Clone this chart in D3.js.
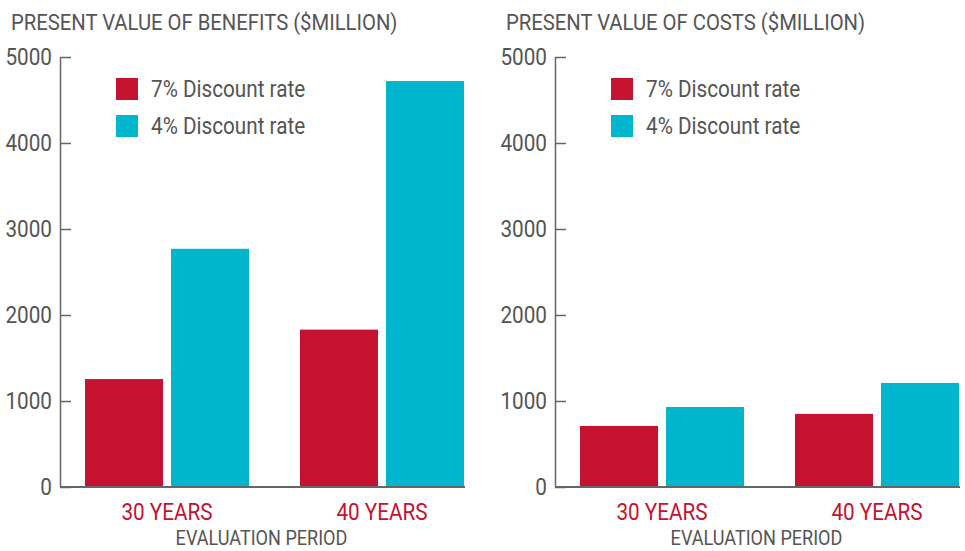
<html>
<head>
  <script src="https://d3js.org/d3.v7.min.js"></script>
  <style>
    body { margin: 0; background: #fff; }
    text { font-family: Roboto, "Liberation Sans", sans-serif; fill: #555; }
    .axis .domain, .axis line { stroke: #666; stroke-width: 1.5; }
  </style>
</head>
<body>
  <svg id="chart" width="965" height="551"></svg>
  <script>
    // values ($ million)
    const periods = ["30 YEARS", "40 YEARS"];
    const rates = ["7% Discount rate", "4% Discount rate"];
    const benefits7 = [1255, 1830];
    const benefits4 = [2770, 4720];
    const costs7 = [710, 850];
    const costs4 = [930, 1210];
    const yTicks = [0, 1000, 2000, 3000, 4000, 5000];
    const colors = ["#C41230", "#00B5CC"];

    const svg = d3.select("#chart");
    const condense = 0.9;   // the original face is a narrow sans

    const panels = [
      { title: "PRESENT VALUE OF BENEFITS ($MILLION)", s7: benefits7, s4: benefits4, left: 0 },
      { title: "PRESENT VALUE OF COSTS ($MILLION)", s7: costs7, s4: costs4, left: 495 }
    ];

    const margin = { top: 57, left: 60, bottom: 64 };
    const plotW = 405;
    const plotH = 551 - margin.top - margin.bottom;

    const yScale = d3.scaleLinear().domain([0, 5000]).range([plotH, 0]);
    const xScale = d3.scaleBand().domain(periods).range([25, 404]).paddingInner(0.237);
    const xSub = d3.scaleBand().domain(rates).range([0, xScale.bandwidth()]).paddingInner(0.093);

    panels.forEach(p => {
      const g = svg.append("g").attr("transform", "translate(" + p.left + ",0)");

      g.append("text").attr("x", 11).attr("y", 30)
       .style("font-size", "22.5px").text(p.title);

      const chart = g.append("g").attr("transform", "translate(" + margin.left + "," + margin.top + ")");

      const yAxis = d3.axisLeft(yScale).tickValues(yTicks).tickSizeInner(-11).tickSizeOuter(0)
                      .tickPadding(8).tickFormat(d3.format("d"));
      chart.append("g").attr("class", "axis").call(yAxis)
           .selectAll("text").style("font-size", "23px").style("font-family", null).attr("fill", null);

      const rows = periods.map((per, i) => ({ period: per, vals: [p.s7[i], p.s4[i]] }));
      chart.selectAll("g.grp").data(rows).join("g").attr("class", "grp")
           .attr("transform", d => "translate(" + xScale(d.period) + ",0)")
           .selectAll("rect").data(d => d.vals.map((v, j) => ({ rate: rates[j], v: v, c: colors[j] })))
           .join("rect")
           .attr("x", d => xSub(d.rate))
           .attr("width", xSub.bandwidth())
           .attr("y", d => yScale(d.v))
           .attr("height", d => yScale(0) - yScale(d.v))
           .attr("fill", d => d.c);

      // baseline
      chart.append("line").attr("x1", 0).attr("x2", plotW)
           .attr("y1", yScale(0)).attr("y2", yScale(0))
           .attr("stroke", "#666").attr("stroke-width", 2);

      // category labels
      chart.selectAll("text.cat").data(periods).join("text").attr("class", "cat")
           .attr("x", d => xScale(d) + xScale.bandwidth() / 2)
           .attr("y", plotH + 33)
           .attr("text-anchor", "middle")
           .style("font-size", "23px").style("fill", colors[0])
           .text(d => d);

      chart.append("text").attr("class", "xtitle").attr("x", plotW / 2 - 1).attr("y", plotH + 58)
           .attr("text-anchor", "middle").style("font-size", "21px")
           .text("EVALUATION PERIOD");

      // legend
      const leg = chart.selectAll("g.leg").data(rates).join("g").attr("class", "leg")
                       .attr("transform", (d, i) => "translate(56," + (21 + i * 37) + ")");
      leg.append("rect").attr("width", 22).attr("height", 22).attr("fill", (d, i) => colors[i]);
      leg.append("text").attr("x", 35).attr("y", 19).style("font-size", "23px").text(d => d);
    });

    // squeeze every label to the narrow look of the original
    svg.selectAll("text").each(function () {
      const k = this.classList.contains("xtitle") ? 0.86 : condense;
      const w = this.getComputedTextLength();
      d3.select(this).attr("textLength", w * k).attr("lengthAdjust", "spacingAndGlyphs");
    });
  </script>
</body>
</html>
